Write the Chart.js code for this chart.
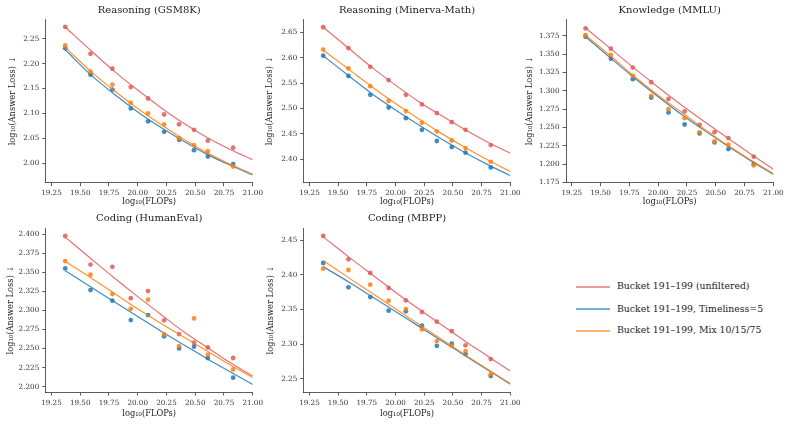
<!DOCTYPE html>
<html>
<head>
<meta charset="utf-8">
<script src="https://cdn.jsdelivr.net/npm/chart.js@4.4.1/dist/chart.umd.min.js"></script>
<style>
  body { margin: 0; background: #fff; width: 789px; height: 424px; position: relative; overflow: hidden; font-family: "DejaVu Serif", serif; }
  canvas { position: absolute; }
  .leg { position: absolute; left: 576px; height: 12px; line-height: 12px; font-size: 9.3px; color: #222; white-space: nowrap; }
  .leg i { display: inline-block; width: 34px; height: 2px; vertical-align: middle; margin-right: 7px; }
</style>
</head>
<body>
<script>
// x positions of the runs (log10 FLOPs) and of the fitted curves
var flops = [19.37, 19.59, 19.78, 19.94, 20.09, 20.23, 20.36, 20.49, 20.61, 20.83];
var fitFlops = [19.37, 19.6, 19.8, 20.0, 20.2, 20.4, 20.6, 20.8, 21.0];
var xTicks = [19.25, 19.5, 19.75, 20.0, 20.25, 20.5, 20.75, 21.0];

var seriesNames = ['Bucket 191\u2013199 (unfiltered)', 'Bucket 191\u2013199, Timeliness=5', 'Bucket 191\u2013199, Mix 10/15/75'];
var seriesColors = ['rgb(226,88,90)', 'rgb(31,119,180)', 'rgb(255,127,14)'];

// Reasoning (GSM8K)
var gsmUnf = [2.274, 2.220, 2.190, 2.153, 2.130, 2.098, 2.078, 2.067, 2.045, 2.031];
var gsmTim = [2.231, 2.178, 2.148, 2.110, 2.084, 2.063, 2.047, 2.026, 2.013, 1.998];
var gsmMix = [2.237, 2.184, 2.158, 2.121, 2.100, 2.078, 2.050, 2.036, 2.024, 1.993];
var gsmFitUnf = [2.274, 2.225, 2.184, 2.147, 2.112, 2.080, 2.052, 2.028, 2.007];
var gsmFitTim = [2.228, 2.176, 2.138, 2.103, 2.072, 2.044, 2.018, 1.996, 1.976];
var gsmFitMix = [2.233, 2.183, 2.145, 2.110, 2.078, 2.048, 2.021, 1.998, 1.978];
var gsmTicks = [2.00, 2.05, 2.10, 2.15, 2.20, 2.25];

// Reasoning (Minerva-Math)
var minUnf = [2.660, 2.619, 2.582, 2.556, 2.527, 2.508, 2.491, 2.473, 2.458, 2.428];
var minTim = [2.604, 2.564, 2.527, 2.502, 2.481, 2.458, 2.436, 2.424, 2.413, 2.384];
var minMix = [2.616, 2.579, 2.544, 2.515, 2.495, 2.472, 2.455, 2.437, 2.422, 2.395];
var minFitUnf = [2.660, 2.617, 2.580, 2.546, 2.514, 2.486, 2.459, 2.434, 2.412];
var minFitTim = [2.604, 2.563, 2.528, 2.497, 2.468, 2.440, 2.414, 2.390, 2.368];
var minFitMix = [2.615, 2.576, 2.542, 2.510, 2.480, 2.451, 2.424, 2.399, 2.376];
var minTicks = [2.40, 2.45, 2.50, 2.55, 2.60, 2.65];

// Knowledge (MMLU)
var mmluUnf = [1.3855, 1.3577, 1.3318, 1.3118, 1.289, 1.2718, 1.2536, 1.2436, 1.2355, 1.210];
var mmluTim = [1.374, 1.344, 1.316, 1.2909, 1.2705, 1.254, 1.2418, 1.2295, 1.2205, 1.200];
var mmluMix = [1.376, 1.349, 1.3205, 1.2932, 1.275, 1.2627, 1.2432, 1.231, 1.2264, 1.1982];
var mmluFitUnf = [1.386, 1.356, 1.330, 1.305, 1.281, 1.258, 1.236, 1.214, 1.193];
var mmluFitTim = [1.374, 1.343, 1.317, 1.292, 1.268, 1.246, 1.225, 1.205, 1.186];
var mmluFitMix = [1.376, 1.346, 1.319, 1.294, 1.271, 1.248, 1.226, 1.206, 1.187];
var mmluTicks = [1.175, 1.200, 1.225, 1.250, 1.275, 1.300, 1.325, 1.350, 1.375];

// Coding (HumanEval)
var heUnf = [2.3974, 2.360, 2.357, 2.316, 2.3253, 2.287, 2.269, 2.2576, 2.2515, 2.2376];
var heTim = [2.355, 2.3266, 2.3127, 2.2873, 2.2939, 2.266, 2.2502, 2.2524, 2.2376, 2.2118];
var heMix = [2.3646, 2.3467, 2.3214, 2.302, 2.314, 2.2686, 2.2533, 2.2895, 2.242, 2.2227];
var heFitUnf = [2.396, 2.367, 2.342, 2.318, 2.295, 2.272, 2.252, 2.232, 2.214];
var heFitTim = [2.352, 2.330, 2.311, 2.292, 2.273, 2.255, 2.237, 2.220, 2.203];
var heFitMix = [2.364, 2.342, 2.322, 2.302, 2.283, 2.265, 2.247, 2.229, 2.212];
var heTicks = [2.200, 2.225, 2.250, 2.275, 2.300, 2.325, 2.350, 2.375, 2.400];

// Coding (MBPP)
var mbppUnf = [2.4563, 2.4225, 2.4028, 2.3811, 2.3633, 2.3464, 2.3324, 2.3189, 2.2982, 2.2784];
var mbppTim = [2.4172, 2.382, 2.368, 2.3483, 2.3474, 2.3266, 2.2976, 2.3006, 2.2857, 2.2539];
var mbppMix = [2.409, 2.4071, 2.3859, 2.3628, 2.3507, 2.3213, 2.3044, 2.2977, 2.290, 2.2563];
var mbppFitUnf = [2.455, 2.425, 2.400, 2.375, 2.351, 2.328, 2.305, 2.283, 2.261];
var mbppFitTim = [2.412, 2.389, 2.368, 2.347, 2.326, 2.305, 2.284, 2.263, 2.242];
var mbppFitMix = [2.421, 2.395, 2.373, 2.351, 2.329, 2.307, 2.285, 2.264, 2.243];
var mbppTicks = [2.25, 2.30, 2.35, 2.40, 2.45];

var FONT = '"DejaVu Serif", serif';

// box = canvas [left, top, width, height], area = plot area [left, top, right, bottom] in page px
var panels = [
  { title: 'Reasoning (GSM8K)', box: [0, 0, 270, 212], area: [45.7, 19, 252.7, 182.7], titleY: 10, ylabX: 13, xlabY: 201.7,
    y: [1.9605, 2.290], yTicks: gsmTicks, dec: 2, pts: [gsmUnf, gsmTim, gsmMix], fits: [gsmFitUnf, gsmFitTim, gsmFitMix] },
  { title: 'Reasoning (Minerva-Math)', box: [258, 0, 272, 212], area: [303.7, 19, 510.3, 182.7], titleY: 10, ylabX: 270, xlabY: 201.7,
    y: [2.3539, 2.6762], yTicks: minTicks, dec: 2, pts: [minUnf, minTim, minMix], fits: [minFitUnf, minFitTim, minFitMix] },
  { title: 'Knowledge (MMLU)', box: [520, 0, 269, 212], area: [566, 19, 773.3, 182.7], titleY: 10, ylabX: 529.5, xlabY: 201.7,
    y: [1.1745, 1.3982], yTicks: mmluTicks, dec: 3, pts: [mmluUnf, mmluTim, mmluMix], fits: [mmluFitUnf, mmluFitTim, mmluFitMix] },
  { title: 'Coding (HumanEval)', box: [0, 209, 270, 215], area: [45.7, 228, 252.7, 392], titleY: 218.7, ylabX: 10.5, xlabY: 413.7,
    y: [2.1931, 2.4079], yTicks: heTicks, dec: 3, pts: [heUnf, heTim, heMix], fits: [heFitUnf, heFitTim, heFitMix] },
  { title: 'Coding (MBPP)', box: [258, 209, 272, 215], area: [303.7, 228, 510.3, 392], titleY: 218.7, ylabX: 271, xlabY: 413.7,
    y: [2.2308, 2.4678], yTicks: mbppTicks, dec: 2, pts: [mbppUnf, mbppTim, mbppMix], fits: [mbppFitUnf, mbppFitTim, mbppFitMix] }
];

function pairs(xs, ys) {
  return xs.map(function(x, i) { return { x: x, y: ys[i] }; });
}

function fade(rgb, a) {
  return rgb.replace('rgb(', 'rgba(').replace(')', ',' + a + ')');
}

function drawPanel(p) {
  var L = p.box[0], T = p.box[1], W = p.box[2], H = p.box[3];
  var a = p.area;
  var canvas = document.createElement('canvas');
  canvas.width = W;
  canvas.height = H;
  canvas.style.left = L + 'px';
  canvas.style.top = T + 'px';
  document.body.appendChild(canvas);

  var datasets = [];
  for (var i = 0; i < 3; i++) {
    datasets.push({
      label: seriesNames[i] + ' points',
      data: pairs(flops, p.pts[i]),
      backgroundColor: fade(seriesColors[i], 0.85),
      borderWidth: 0,
      pointRadius: 2.4,
      showLine: false
    });
    datasets.push({
      label: seriesNames[i],
      data: pairs(fitFlops, p.fits[i]),
      borderColor: fade(seriesColors[i], 0.85),
      borderWidth: 1.2,
      pointRadius: 0,
      showLine: true,
      cubicInterpolationMode: 'monotone',
      fill: false
    });
  }
  datasets.reverse(); // first series ends up underneath, like matplotlib

  var titleLH = 10 * 1.2, labLH = 8.3 * 1.2;
  var tc = p.titleY - T;

  new Chart(canvas, {
    type: 'scatter',
    data: { datasets: datasets },
    options: {
      responsive: false,
      animation: false,
      devicePixelRatio: 1,
      layout: { padding: { left: 0, top: 0, bottom: 0, right: L + W - a[2] } },
      plugins: {
        legend: { display: false },
        tooltip: { enabled: false },
        title: {
          display: true,
          text: p.title,
          fullSize: false,
          color: '#222',
          font: { family: FONT, size: 10, weight: 'normal', lineHeight: 1.2 },
          padding: { top: tc - titleLH / 2, bottom: (a[1] - T) - tc - titleLH / 2 }
        }
      },
      scales: {
        x: {
          type: 'linear',
          min: 19.2,
          max: 21.0,
          afterFit: function(s) { s.height = T + H - a[3]; },
          afterBuildTicks: function(s) { s.ticks = xTicks.map(function(v) { return { value: v }; }); },
          ticks: {
            autoSkip: false, maxRotation: 0, padding: 3, color: '#333',
            font: { family: FONT, size: 7.2 },
            callback: function(v) { return Number(v).toFixed(2); }
          },
          grid: { drawOnChartArea: false, drawTicks: true, tickLength: 3.5, tickColor: '#333', tickWidth: 0.8 },
          border: { display: true, color: '#333', width: 0.8 },
          title: {
            display: true,
            text: 'log\u2081\u2080(FLOPs)',
            color: '#222',
            font: { family: FONT, size: 8.3, lineHeight: 1.2 },
            padding: { top: 0, bottom: (T + H - p.xlabY) - labLH / 2 }
          }
        },
        y: {
          type: 'linear',
          min: p.y[0],
          max: p.y[1],
          afterFit: function(s) { s.width = a[0] - L; },
          afterBuildTicks: function(s) { s.ticks = p.yTicks.map(function(v) { return { value: v }; }); },
          ticks: {
            autoSkip: false, padding: 3, color: '#333',
            font: { family: FONT, size: 7.2 },
            callback: function(v) { return Number(v).toFixed(p.dec); }
          },
          grid: { drawOnChartArea: false, drawTicks: true, tickLength: 3.5, tickColor: '#333', tickWidth: 0.8 },
          border: { display: true, color: '#333', width: 0.8 },
          title: {
            display: true,
            text: 'log\u2081\u2080(Answer Loss) \u2193',
            color: '#222',
            font: { family: FONT, size: 8.3, lineHeight: 1.2 },
            padding: { top: (p.ylabX - L) - labLH / 2, bottom: 0 }
          }
        }
      }
    }
  });
}

panels.forEach(drawPanel);

// legend in the empty sixth cell
var legendY = [286, 308.7, 330];
seriesNames.forEach(function(name, i) {
  var d = document.createElement('div');
  d.className = 'leg';
  d.style.top = (legendY[i] - 6) + 'px';
  var line = document.createElement('i');
  line.style.background = fade(seriesColors[i], 0.6);
  d.appendChild(line);
  d.appendChild(document.createTextNode(name));
  document.body.appendChild(d);
});
</script>
</body>
</html>
